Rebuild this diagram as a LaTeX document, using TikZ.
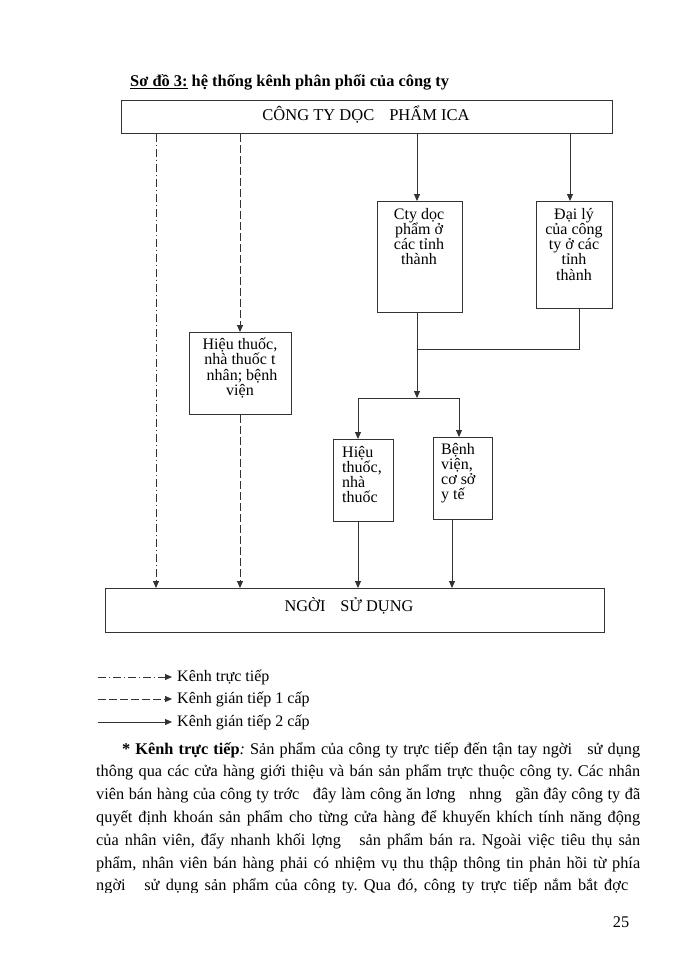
\documentclass[tikz,border=0pt]{standalone}
\usepackage{fontspec}
\setmainfont{Liberation Serif}
\usetikzlibrary{arrows.meta}
\frenchspacing
\begin{document}
\begin{tikzpicture}[x=1pt,y=-1pt,
  ln/.style={draw=black!80, line width=0.9pt},
  arr/.style={ln, -{Triangle[length=7pt,width=6pt]}},
  dd/.style={dash pattern=on 8pt off 3pt on 1pt off 3pt},
  ds/.style={dash pattern=on 8pt off 3pt},
  box/.style={draw=black!80, line width=0.9pt, inner sep=0, anchor=north west},
  bt/.style={font=\fontsize{16}{15.2}\selectfont, inner sep=0, align=center, anchor=north},
  btl/.style={bt, align=left, anchor=north west},
  body/.style={font=\fontsize{16.3}{18}\selectfont, inner sep=0, anchor=base west},
]
\useasboundingbox (0,0) rectangle (700,960);

% title
\node[body, font=\bfseries\fontsize{16.4}{18}\selectfont] (title) at (130,87)
  {\underline{Sơ đồ 3:} hệ thống kênh phân phối của công ty};

% boxes
\node[box, minimum width=491pt, minimum height=33pt] (top) at (121,100) {};
\node[box, minimum width=85pt, minimum height=111pt] (cty) at (377,201) {};
\node[box, minimum width=76pt, minimum height=107pt] (daily) at (536,201) {};
\node[box, minimum width=102pt, minimum height=82pt] (hieu1) at (189,332) {};
\node[box, minimum width=60pt, minimum height=82pt] (hieu2) at (333,439) {};
\node[box, minimum width=59pt, minimum height=82pt] (benh) at (433,437) {};
\node[box, minimum width=499pt, minimum height=44pt] (bottom) at (105,588) {};

% box texts
\node[body, anchor=base, font=\fontsize{16.5}{18}\selectfont] (toptext) at (366,121)
  {CÔNG TY DỌC\hspace{15pt}PHẨM ICA};
\node[body, anchor=base, font=\fontsize{16.3}{18}\selectfont] (bottext) at (349,611)
  {NGỜI\hspace{15pt}SỬ DỤNG};
\node[bt] (ctytext) at (419,208) {Cty dọc\\phẩm ở\\các tỉnh\\thành};
\node[bt] (dailytext) at (574,208) {Đại lý\\của công\\ty ở các\\tỉnh\\thành};
\node[bt] (hieu1text) at (240,338) {Hiệu thuốc,\\nhà thuốc t\\\ nhân; bệnh\\viện};
\node[btl] (hieu2text) at (342,446) {Hiệu\\thuốc,\\nhà\\thuốc};
\node[btl] (benhtext) at (441,443) {Bệnh\\viện,\\cơ sở\\y tế};

% connector x positions
\coordinate (xa) at (156,0);
\coordinate (xb) at (240,0);
\coordinate (xc) at (417,0);
\coordinate (xd) at (570,0);
\coordinate (xe) at (579,0);
\coordinate (xf) at (358,0);
\coordinate (xg) at (452,0);
\coordinate (j1) at (417,349);
\coordinate (j2) at (417,398);
\coordinate (j3) at (358,398);
\coordinate (j4) at (459,398);

\draw[arr,dd] (top.south -| xa) -- (bottom.north -| xa);
\draw[arr,ds] (top.south -| xb) -- (hieu1.north -| xb);
\draw[arr,ds] (hieu1.south -| xb) -- (bottom.north -| xb);
\draw[arr] (top.south -| xc) -- (cty.north -| xc);
\draw[arr] (top.south -| xd) -- (daily.north -| xd);
\draw[ln] (daily.south -| xe) |- (j1);
\draw[arr] (cty.south -| j1) -- (j2);
\draw[ln] (j3) -- (j4);
\draw[arr] (j3) -- (hieu2.north -| j3);
\draw[arr] (j4) -- (benh.north -| j4);
\draw[arr] (hieu2.south -| xf) -- (bottom.north -| xf);
\draw[arr] (benh.south -| xg) -- (bottom.north -| xg);

% legend
\coordinate (la1) at (98,677);  \coordinate (lb1) at (172,677);
\coordinate (la2) at (98,699);  \coordinate (lb2) at (172,699);
\coordinate (la3) at (98,722);  \coordinate (lb3) at (172,722);
\draw[arr,dd] (la1) -- (lb1);
\draw[arr,ds] (la2) -- (lb2);
\draw[arr] (la3) -- (lb3);
\node[body, font=\fontsize{16}{18}\selectfont] (lt1) at (177,681) {Kênh trực tiếp};
\node[body, font=\fontsize{16}{18}\selectfont] (lt2) at (177,703) {Kênh gián tiếp 1 cấp};
\node[body, font=\fontsize{16}{18}\selectfont] (lt3) at (177,726) {Kênh gián tiếp 2 cấp};

% paragraph
\node[body] (p1) at (122,754) {\makebox[518pt][s]{\textbf{* Kênh trực tiếp}\textit{:} Sản phẩm của công ty trực tiếp đến tận tay ngời~~ sử dụng}};
\node[body] (p2) at (96,776.8) {\makebox[544pt][s]{thông qua các cửa hàng giới thiệu và bán sản phẩm trực thuộc công ty. Các nhân}};
\node[body] (p3) at (96,799.6) {\makebox[544pt][s]{viên bán hàng của công ty trớc~~ đây làm công ăn lơng~~ nhng~~ gần đây công ty đã}};
\node[body] (p4) at (96,822.4) {\makebox[544pt][s]{quyết định khoán sản phẩm cho từng cửa hàng để khuyến khích tính năng động}};
\node[body] (p5) at (96,845.2) {\makebox[544pt][s]{của nhân viên, đẩy nhanh khối lợng~~ sản phẩm bán ra. Ngoài việc tiêu thụ sản}};
\node[body] (p6) at (96,868) {\makebox[544pt][s]{phẩm, nhân viên bán hàng phải có nhiệm vụ thu thập thông tin phản hồi từ phía}};
\begin{scope}
\clip (0,700) rectangle (700,892);
\node[body] (p7) at (96,890.8) {\makebox[532pt][s]{ngời~~ sử dụng sản phẩm của công ty. Qua đó, công ty trực tiếp nắm bắt đợc}};
\end{scope}
\node[body, anchor=base] (pg) at (621,927) {25};
\end{tikzpicture}
\end{document}
